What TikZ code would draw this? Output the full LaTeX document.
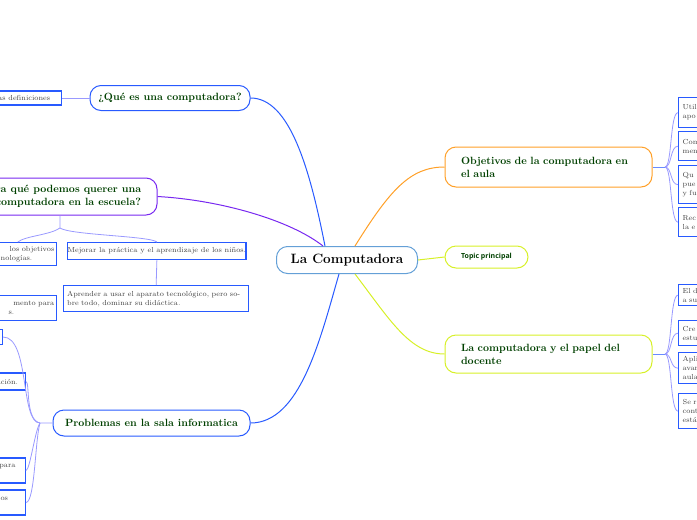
\documentclass[tikz,border=0pt]{standalone}
\usepackage{fontspec}
\newfontfamily\topicfont{Open Sans}
\begin{document}
\begin{tikzpicture}[x=1pt,y=-1pt,
  txt/.style={text=green!25!black},
  mainbox/.style={draw,line width=1pt,rounded corners=11pt,inner sep=0pt,font=\bfseries\fontsize{10.5}{13}\selectfont,txt},
  leaf/.style={draw=cblue,line width=1.3pt,inner sep=0pt,font=\fontsize{7.3}{9}\selectfont,text=black!75},
  thin/.style={draw=blue!40!white,line width=0.8pt}]
\useasboundingbox (0,0) rectangle (697,520);
\clip (0,0) rectangle (697,520);
\definecolor{cblue}{RGB}{40,90,255}
\definecolor{cpurp}{RGB}{120,40,240}
\definecolor{corng}{RGB}{255,160,40}
\definecolor{cyel}{RGB}{215,240,40}
\definecolor{clb}{RGB}{100,160,215}
% main nodes
\node[mainbox,draw=clb,minimum width=141pt,minimum height=27pt,font=\bfseries\fontsize{13.5}{15}\selectfont,text=black] (c) at (347,260) {La Computadora};
\node[mainbox,draw=cblue,minimum width=160pt,minimum height=25pt] (q) at (170,98) {¿Qué es una computadora?};
\node[mainbox,draw=cpurp,minimum width=177pt,minimum height=37pt,align=left] (p) at (68.5,196.5) {ra qué podemos querer una\\computadora en la escuela?};
\node[mainbox,draw=cblue,minimum width=197pt,minimum height=26pt] (pr) at (151.5,423) {Problemas en la sala informatica};
\node[mainbox,draw=corng,minimum width=207pt,minimum height=40pt,text width=175pt,align=left] (o) at (548.5,167) {Objetivos de la computadora en el aula};
\node[mainbox,draw=cyel,minimum width=83pt,minimum height=22pt,font=\topicfont\bfseries\fontsize{7}{8}\selectfont] (t) at (486.5,257) {Topic principal};
\node[mainbox,draw=cyel,minimum width=207pt,minimum height=38pt,text width=175pt,align=left] (d) at (548.5,354) {La computadora y el papel del docente};
% main connectors
\draw[cblue,line width=1pt] (c.north) ++(-22,0) .. controls (310,170) and (290,98) .. (q.east);
\draw[cpurp,line width=1pt] (c.north) ++(-24,0) .. controls (290,220) and (220,200) .. (p.east);
\draw[cblue,line width=1pt] (c.south) ++(-8,0) .. controls (320,340) and (300,423) .. (pr.east);
\draw[corng,line width=1pt] (c.north) ++(8,0) .. controls (390,190) and (410,167) .. (o.west);
\draw[cyel,line width=1pt] (c.east) -- (t.west);
\draw[cyel,line width=1pt] (c.south) ++(8,0) .. controls (390,320) and (410,354) .. (d.west);
% left leaves
\node[leaf,anchor=east,minimum width=72pt,minimum height=14pt,align=right] (q1) at (62,98) {sas definiciones\ \ };
\draw[thin] (q1.east) -- (q.west);
\node[leaf,anchor=north east,minimum width=67pt,minimum height=23pt,text width=63pt,align=right] (p1) at (57,242) {los objetivos\\nologías.\hspace*{22pt}};
\node[leaf,anchor=north west,minimum width=178pt,minimum height=17pt] (p2) at (67,242) {Mejorar la práctica y el aprendizaje de los niños.};
\node[leaf,anchor=north east,minimum width=67pt,minimum height=25pt,text width=63pt,align=right] (p3) at (57,295) {mento para\\s.\hspace*{40pt}};
\node[leaf,anchor=north west,minimum width=185pt,minimum height=26pt,text width=178pt,align=left] (p4) at (63,285) {Aprender a usar el aparato tecnológico, pero sobre todo, dominar su didáctica.};
\coordinate (pj) at (60,228);
\draw[thin] (p.south -| pj) -- (pj) .. controls (50,235) and (25,236) .. ([xshift=-5pt]p1.north);
\draw[thin] (pj) .. controls (70,235) and (150,236) .. (p2.north);
\draw[thin] (p2.south) -- (p4.north);
\node[leaf,anchor=east,minimum width=13pt,minimum height=15pt] (r1) at (3,337) {};
\node[leaf,anchor=east,minimum width=36pt,minimum height=17pt] (r2) at (26,381.5) {ación.};
\node[leaf,anchor=east,minimum width=36pt,minimum height=25pt,align=right] (r3) at (26,470.5) {para\ \\ };
\node[leaf,anchor=east,minimum width=36pt,minimum height=25pt,align=right] (r4) at (26,502.5) {los\ \ \ \ \\ };
\coordinate (rj) at (40,423);
\draw[thin] (pr.west) -- (rj) .. controls (20,423) and (30,337) .. (r1.east);
\draw[thin] (rj) .. controls (25,420) and (30,382) .. (r2.east);
\draw[thin] (rj) .. controls (35,430) and (30,470) .. (r3.east);
\draw[thin] (rj) .. controls (35,440) and (35,502) .. (r4.east);
% right leaves
\foreach \n/\ya/\yb/\t in {o1/97/127/{Util\\apo}, o2/131/160/{Com\\men}, o3/165/203/{Qu\\pue\\y fu}, o4/207/236/{Rec\\la e},
  d1/284/305/{El d\\a su}, d2/320/345/{Cre\\estu}, d3/352/383/{Apli\\avan\\aula}, d4/393/428/{Se r\\cont\\está}}{
  \node[leaf,anchor=north west,minimum width=40pt,minimum height={\yb-\ya},text width=34pt,align=left,inner xsep=4pt] (\n) at (678,\ya) {\t};
}
\coordinate (oj) at (665,167);
\coordinate (dj) at (665,354);
\draw[thin,draw=cblue!70] (o.east) -- (oj);
\draw[thin,draw=cblue!70] (d.east) -- (dj);
\foreach \n in {o1,o2,o3,o4}{\draw[thin] (oj) .. controls (672,167) and (670,0 |- \n.west) .. (\n.west);}
\foreach \n in {d1,d2,d3,d4}{\draw[thin] (dj) .. controls (672,354) and (670,0 |- \n.west) .. (\n.west);}
\end{tikzpicture}
\end{document}
